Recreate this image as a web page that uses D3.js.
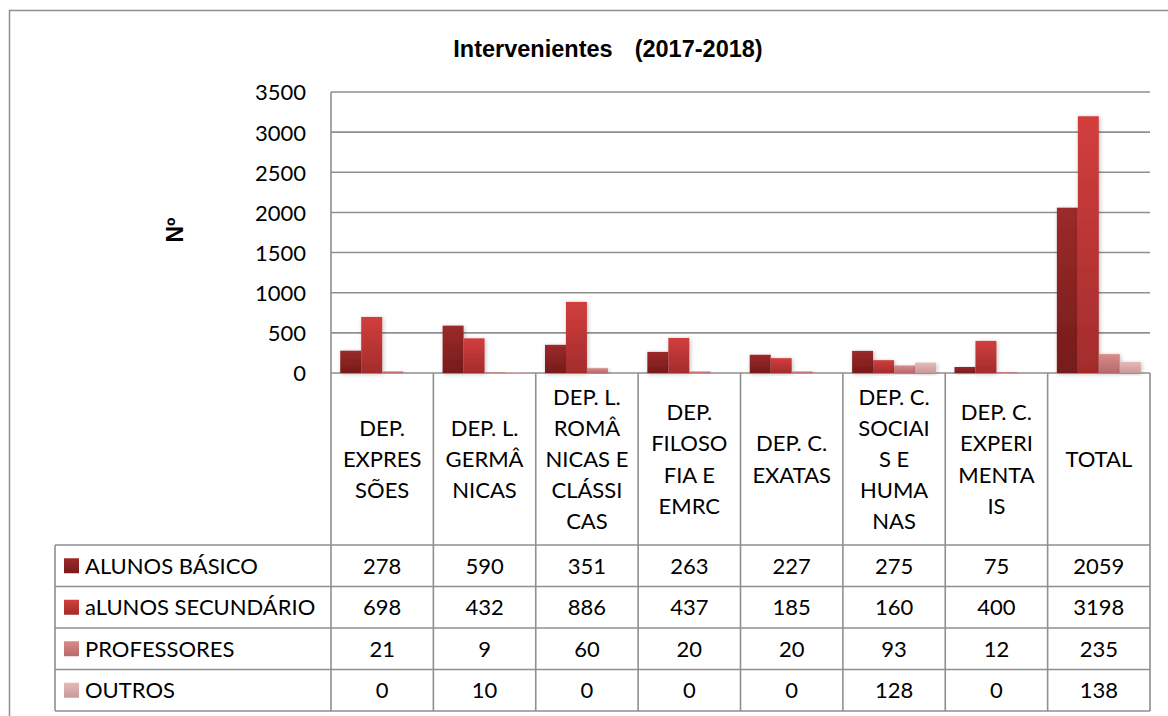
<!DOCTYPE html>
<html>
<head>
<meta charset="utf-8">
<script src="https://cdn.jsdelivr.net/npm/d3@7"></script>
<style>
  body { margin: 0; background: #fff; }
  svg { display: block; }
  .tk { font-family: Lato, "Open Sans", sans-serif; font-size: 22px; fill: #000; }
</style>
</head>
<body>
<svg width="1168" height="716"></svg>
<script>
var categories = ['DEP.\nEXPRES\nSÕES', 'DEP. L.\nGERMÂ\nNICAS', 'DEP. L.\nROMÂ\nNICAS E\nCLÁSSI\nCAS',
  'DEP.\nFILOSO\nFIA E\nEMRC', 'DEP. C.\nEXATAS', 'DEP. C.\nSOCIAI\nS E\nHUMA\nNAS', 'DEP. C.\nEXPERI\nMENTA\nIS', 'TOTAL'];
var seriesNames = ['ALUNOS BÁSICO', 'aLUNOS SECUNDÁRIO', 'PROFESSORES', 'OUTROS'];
var alunosBasico = [278, 590, 351, 263, 227, 275, 75, 2059];
var alunosSecundario = [698, 432, 886, 437, 185, 160, 400, 3198];
var professores = [21, 9, 60, 20, 20, 93, 12, 235];
var outros = [0, 10, 0, 0, 0, 128, 0, 138];
var yTicks = [0, 500, 1000, 1500, 2000, 2500, 3000, 3500];
var seriesValues = [alunosBasico, alunosSecundario, professores, outros];
var colorsTop = ['#9c2a2a', '#d23e3e', '#da8a8a', '#e7b8b8'];
var colorsBottom = ['#761b1b', '#a32c2c', '#b66a6a', '#c79b9b'];

var svg = d3.select('svg');
var plotLeft = 331, plotRight = 1150, plotTop = 92, zero = 373;
var headerBottom = 545, rowH = 41.5, legendLeft = 55;
var grid = '#8f8f8f';

var defs = svg.append('defs');
seriesNames.forEach(function(s, i) {
  var g = defs.append('linearGradient').attr('id', 'g' + i)
    .attr('x1', 0).attr('y1', 0).attr('x2', 0).attr('y2', 1);
  g.append('stop').attr('offset', '0%').attr('stop-color', colorsTop[i]);
  g.append('stop').attr('offset', '100%').attr('stop-color', colorsBottom[i]);
});
var f = defs.append('filter').attr('id', 'sh').attr('x', '-30%').attr('y', '-10%').attr('width', '160%').attr('height', '130%');
f.append('feDropShadow').attr('dx', 1).attr('dy', 1).attr('stdDeviation', 2)
  .attr('flood-color', '#000').attr('flood-opacity', 0.25);

// outer chart border
svg.append('rect').attr('x', 9.5).attr('y', 10.5).attr('width', 1200).attr('height', 800)
  .attr('fill', 'none').attr('stroke', grid).attr('stroke-width', 1.5);

// title
var title = svg.append('text').attr('x', 608).attr('y', 57).attr('text-anchor', 'middle')
  .style('font-family', 'Arial, "Liberation Sans", sans-serif').style('font-weight', 'bold')
  .style('font-size', '23.5px');
title.append('tspan').text('Intervenientes');
title.append('tspan').attr('dx', 22).text('(2017-2018)');

// y title
svg.append('text').attr('transform', 'translate(183,230) rotate(-90)').attr('text-anchor', 'middle')
  .style('font-family', 'Arial, "Liberation Sans", sans-serif').style('font-weight', 'bold')
  .style('font-size', '23px').text('Nº');

var y = d3.scaleLinear().domain([0, 3500]).range([zero, plotTop]);
var x0 = d3.scaleBand().domain(d3.range(categories.length)).range([plotLeft, plotRight]).padding(0);
var x1 = d3.scaleBand().domain(d3.range(seriesNames.length)).range([0, x0.bandwidth()])
  .paddingInner(0).paddingOuter(0.44);

// gridlines
svg.append('g').selectAll('line').data(yTicks).enter().append('line')
  .attr('x1', plotLeft).attr('x2', plotRight)
  .attr('y1', function(d) { return y(d); }).attr('y2', function(d) { return y(d); })
  .attr('stroke', grid).attr('stroke-width', 1.6);

// y axis labels
var yAxis = d3.axisLeft(y).tickValues(yTicks).tickFormat(d3.format('d')).tickSize(0).tickPadding(0);
var ya = svg.append('g').attr('transform', 'translate(306,0)').call(yAxis);
ya.select('.domain').remove();
ya.selectAll('text').attr('class', 'tk').attr('font-size', null).attr('font-family', null).attr('dy', '0.36em');

// bars
var groups = svg.append('g').selectAll('g').data(categories).enter().append('g')
  .attr('transform', function(d, i) { return 'translate(' + x0(i) + ',0)'; });
groups.selectAll('rect').data(function(d, i) {
  return seriesValues.map(function(v, s) { return { s: s, v: v[i] }; });
}).enter().append('rect')
  .attr('x', function(d) { return x1(d.s); })
  .attr('width', x1.bandwidth())
  .attr('y', function(d) { return y(d.v); })
  .attr('height', function(d) { return zero - y(d.v); })
  .attr('fill', function(d) { return 'url(#g' + d.s + ')'; })
  .attr('filter', 'url(#sh)');

// table lines
var tableBottom = headerBottom + rowH * seriesNames.length;
var tbl = svg.append('g').attr('stroke', grid).attr('stroke-width', 1.6);
tbl.append('line').attr('x1', plotLeft).attr('x2', plotLeft).attr('y1', plotTop).attr('y2', tableBottom);
tbl.selectAll('.v').data(d3.range(1, categories.length + 1)).enter().append('line')
  .attr('x1', function(i) { return plotLeft + i * x0.step(); })
  .attr('x2', function(i) { return plotLeft + i * x0.step(); })
  .attr('y1', zero).attr('y2', tableBottom);
tbl.append('line').attr('x1', legendLeft).attr('x2', legendLeft).attr('y1', headerBottom).attr('y2', tableBottom);
tbl.selectAll('.h').data(d3.range(0, seriesNames.length + 1)).enter().append('line')
  .attr('x1', legendLeft).attr('x2', plotRight)
  .attr('y1', function(i) { return headerBottom + i * rowH; })
  .attr('y2', function(i) { return headerBottom + i * rowH; });

// header labels
var lineH = 31.2;
svg.append('g').selectAll('text').data(categories).enter().append('text')
  .attr('class', 'tk').attr('text-anchor', 'middle')
  .each(function(d, i) {
    var lines = d.split('\n');
    var cx = x0(i) + x0.bandwidth() / 2;
    var cy = (zero + headerBottom) / 2 - (lines.length - 1) * lineH / 2;
    d3.select(this).selectAll('tspan').data(lines).enter().append('tspan')
      .attr('x', cx).attr('y', function(l, k) { return cy + k * lineH; })
      .attr('dy', '0.36em').text(function(l) { return l; });
  });

// legend rows
var rows = svg.append('g').selectAll('g').data(seriesNames).enter().append('g')
  .attr('transform', function(d, i) { return 'translate(0,' + (headerBottom + i * rowH + rowH / 2) + ')'; });
rows.append('rect').attr('x', 64).attr('y', -7.5).attr('width', 15).attr('height', 15)
  .attr('fill', function(d, i) { return 'url(#g' + i + ')'; });
rows.append('text').attr('class', 'tk').attr('x', 85).attr('dy', '0.36em').text(function(d) { return d; });
rows.selectAll('.val').data(function(d, i) { return seriesValues[i]; }).enter().append('text')
  .attr('class', 'tk').attr('text-anchor', 'middle')
  .attr('x', function(d, i) { return x0(i) + x0.bandwidth() / 2; })
  .attr('dy', '0.36em').text(function(d) { return d; });
</script>
</body>
</html>
